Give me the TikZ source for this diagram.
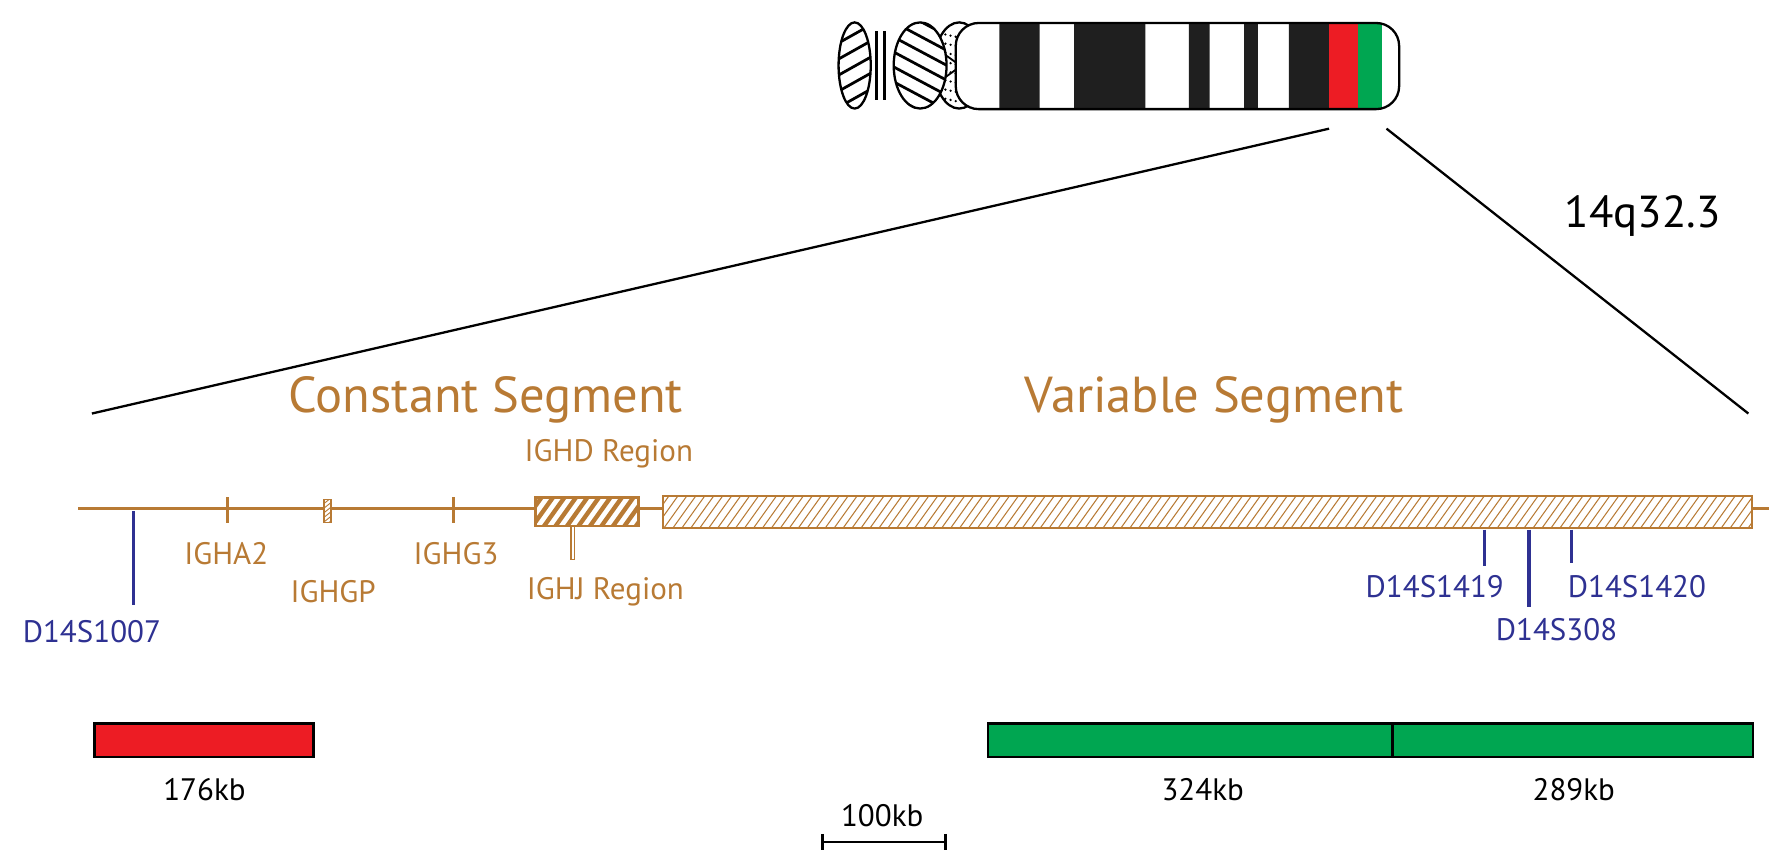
\documentclass[tikz,border=0pt]{standalone}
\usepackage{fontspec}
\setmainfont{PT Sans}
\begin{document}
\begin{tikzpicture}[x=1pt,y=-1pt,
  brown/.style={draw=brn,line width=2.8pt},
  blu/.style={draw=bl,line width=2.8pt},
  lab/.style={text=brn,font=\fontsize{27}{27}\selectfont,inner sep=0},
  blab/.style={text=bl,font=\fontsize{27}{27}\selectfont,inner sep=0},
  big/.style={text=brn,font=\fontsize{44}{44}\selectfont,inner sep=0},
  klab/.style={text=black,font=\fontsize{27}{27}\selectfont,inner sep=0}]
\definecolor{brn}{RGB}{184,122,52}
\definecolor{bl}{RGB}{46,49,146}
\definecolor{rd}{RGB}{237,28,36}
\definecolor{gr}{RGB}{0,166,81}
\useasboundingbox (0,0) rectangle (1560,751);
% chromosome
\begin{scope}[line width=2pt]
\begin{scope}\clip (744,57) ellipse (14 and 37.5);
\foreach \i in {-4,...,4} \draw[line width=2.4pt] (720,57+\i*14+14) -- (770,57+\i*14-14);
\end{scope}
\draw (744,57) ellipse (14 and 37.5);
\draw[line width=2.5pt] (763,27) -- (763,87) (770,27) -- (770,87);
\begin{scope}\clip (835,57) ellipse (22 and 37.5);
\foreach \i in {0,...,7} \foreach \j in {0,...,4} \fill (814+\j*4.5,28+\i*8+\j) circle (1.1);
\draw[line width=1.6pt] (812,40) -- (840,60) (812,75) -- (840,55);
\end{scope}
\draw (835,57) ellipse (22 and 37.5);
\begin{scope}\clip (801,57) ellipse (23 and 37.5);
\fill[white] (801,57) ellipse (23 and 37.5);
\foreach \i in {-5,...,5} \draw[line width=2.4pt] (770,57+\i*13-16) -- (830,57+\i*13+16);
\end{scope}
\draw (801,57) ellipse (23 and 37.5);
\begin{scope}
\clip[rounded corners=20pt] (832,20) rectangle (1218,95);
\fill[white] (832,20) rectangle (1218,95);
\fill[black!88] (870,20) rectangle (905,95) (935,20) rectangle (997,95) (1035,20) rectangle (1053,95) (1083,20) rectangle (1095,95) (1122,20) rectangle (1157,95);
\fill[rd] (1157,20) rectangle (1182,95);
\fill[gr] (1182,20) rectangle (1203,95);
\end{scope}
\node[draw,rounded corners=20pt,minimum width=386pt,minimum height=75pt,inner sep=0] (chr) at (1025,57.5) {};
\end{scope}
\coordinate (za) at (1157,112); \coordinate (zb) at (1207,112);
\coordinate (zc) at (80,360); \coordinate (zd) at (1522,360);
\draw[line width=2pt] (za) -- (zc) (zb) -- (zd);
\node[font=\fontsize{39}{39}\selectfont,inner sep=0] (q) at (1430,188) {14q32.3};
% titles
\node[big] (cs) at (423,348) {Constant Segment};
\node[big] (vs) at (1057,348) {Variable Segment};
% main line
\coordinate (m0) at (68,443); \coordinate (m1) at (1540,443);
\draw[brown] (m0) -- (m1);
\draw[blu] (116,445) -- (116,527);
\draw[brown] (198,433) -- (198,455) (395,433) -- (395,455);
% IGHGP
\fill[white] (282,435) rectangle (288,455);
\begin{scope}\clip (282,435) rectangle (288,455);
\foreach \i in {0,...,6} \draw[brn,line width=0.8pt] (280,440+\i*4) -- (290,432+\i*4);
\end{scope}
\draw[brn,line width=1.2pt] (282,435) rectangle (288,455);
% IGHD box
\fill[white] (466,433) rectangle (556,458);
\begin{scope}\clip (466,433) rectangle (556,458);
\foreach \i in {0,...,11} \draw[brn,line width=3.8pt] (450+\i*10,463) -- (475+\i*10,428);
\end{scope}
\draw[brn,line width=2.2pt] (466,433) rectangle (556,458);
\draw[brn,line width=1.2pt,fill=white] (497,458) rectangle (500,487);
% variable box
\fill[white] (577,432) rectangle (1525,460);
\begin{scope}\clip (577,432) rectangle (1525,460);
\foreach \i in {0,...,125} \draw[brn,line width=0.9pt] (560+\i*7.8,463) -- (585+\i*7.8,428);
\end{scope}
\draw[brn,line width=1.6pt] (577,432) rectangle (1525,460);
\draw[blu] (1292,461) -- (1292,493) (1331,461) -- (1331,528) (1368,461) -- (1368,490);
% labels
\node[lab] at (197,482) {IGHA2};
\node[lab] at (290,515) {IGHGP};
\node[lab] at (397,482) {IGHG3};
\node[lab] at (527,515) {IGHJ Region};
\node[lab] at (530,395) {IGHD Region};
\node[blab] at (80,550) {D14S1007};
\node[blab] at (1249,511) {D14S1419};
\node[blab] at (1355,548) {D14S308};
\node[blab] at (1425,511) {D14S1420};
% bars
\draw[line width=2.4pt,fill=rd] (82,630) rectangle (273,659);
\draw[line width=2.4pt,fill=gr] (860,630) rectangle (1212,659);
\draw[line width=2.4pt,fill=gr] (1212,630) rectangle (1526,659);
\node[klab] at (178,687) {176kb};
\node[klab] at (1047,687) {324kb};
\node[klab] at (1370,687) {289kb};
\draw[line width=2.2pt] (716,733) -- (823,733) (716,726) -- (716,740) (823,726) -- (823,740);
\node[klab] at (768,710) {100kb};
\end{tikzpicture}
\end{document}
